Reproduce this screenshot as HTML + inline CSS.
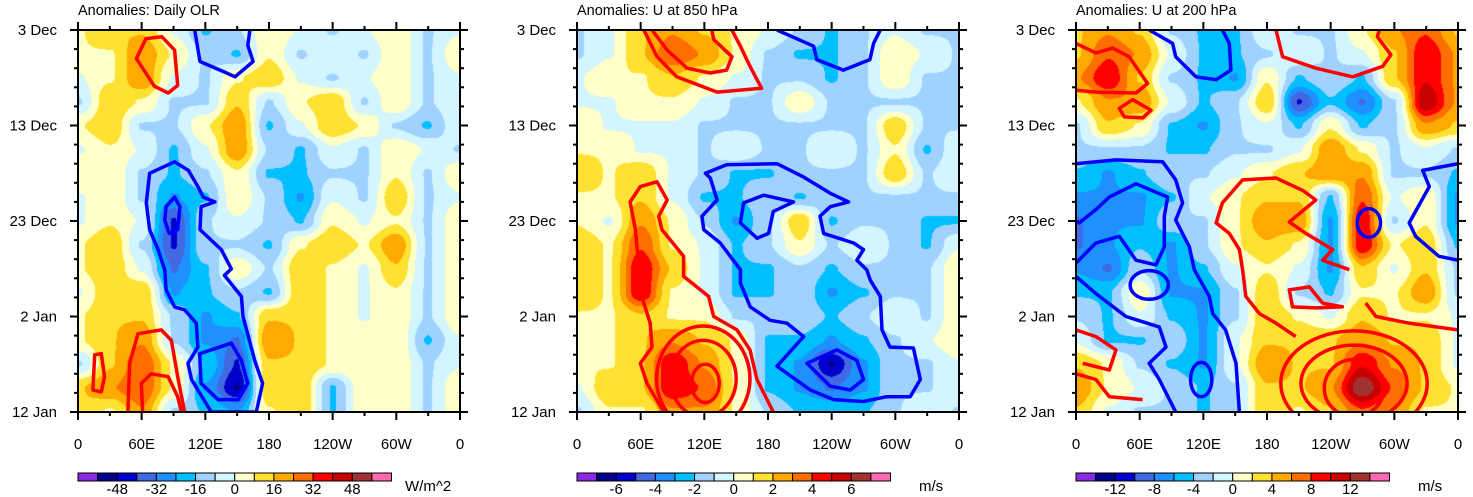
<!DOCTYPE html>
<html><head><meta charset="utf-8">
<style>
html,body{margin:0;padding:0;background:#fff;}
#wrap{position:relative;width:1473px;height:497px;overflow:hidden;font-family:"Liberation Sans",sans-serif;}
canvas{position:absolute;}
svg{position:absolute;left:0;top:0;}
</style></head>
<body>
<div id="wrap">
<canvas id="c0" width="382" height="382" style="left:78px;top:30px"></canvas>
<canvas id="c1" width="382" height="382" style="left:577px;top:30px"></canvas>
<canvas id="c2" width="382" height="382" style="left:1076px;top:30px"></canvas>
<svg id="ov" width="1473" height="497"></svg>
</div>
<script>
const lonGrid=[0,30,60,90,120,150,180,210,240,270,300,330,360];
const dayGrid=[0,2.5,5,7.5,10,12.5,15,17.5,20,22.5,25,27.5,30,32.5,35,37.5,40];
const olrSteps=8, u850Step=1, u200Step=2;
const olrLevels=[
[1,2,2,0,-2,-1,1,0,-1,0,1,-1,0],
[1,1,3,1,-1,-2,1,-1,0,-1,1,-1,1],
[0,1,3,0,-1,1,2,0,-1,0,1,-1,0],
[-1,2,1,-1,-1,2,-1,1,2,-1,1,-1,0],
[1,2,-1,-1,1,3,-2,0,2,1,-1,-2,0],
[0,1,0,-2,0,3,-1,-2,0,-1,1,0,-1],
[1,1,-1,-2,-1,1,-2,-2,-1,-1,1,-1,1],
[0,1,-1,-3,-2,1,-1,-3,0,-1,2,-1,0],
[0,1,0,-5,-1,0,-1,-2,1,0,1,-1,1],
[1,2,-1,-5,-1,-1,-2,1,2,1,3,-1,1],
[1,2,0,-4,-2,1,-1,2,1,0,2,-1,1],
[0,2,2,-3,-2,-1,-2,2,1,0,1,-1,1],
[1,2,2,-1,-3,-2,2,2,1,0,1,-1,1],
[1,2,3,-1,-3,-4,3,2,1,1,1,-2,0],
[-1,2,4,1,-2,-5,2,2,1,1,1,-1,0],
[2,3,4,1,-3,-6,2,2,-2,1,1,-1,1],
[2,1,3,-1,-2,-3,1,2,-2,1,1,-1,1]];
const u850Levels=[
[-1,0,2,3,2,1,0,-1,-2,-1,0,-1,-1],
[-1,0,2,4,3,1,-1,-2,-2,-1,1,0,-1],
[0,1,1,2,1,0,-1,-1,-2,-1,1,-1,-1],
[0,0,1,1,0,-1,-1,1,-1,-1,-1,-1,-1],
[1,0,0,0,-1,-1,-1,-1,-1,-1,2,-1,-1],
[1,1,0,0,-1,0,-1,-1,0,-1,1,-2,0],
[2,1,2,0,-1,-2,-2,-1,-1,-1,2,-1,0],
[1,1,2,0,-2,-2,-1,-2,-1,-1,-1,-1,-1],
[1,0,3,1,-1,-3,-1,2,-2,-1,-1,-2,-2],
[2,1,4,1,0,-2,-1,1,-1,0,-1,-2,0],
[2,1,5,2,0,-2,-2,-1,-2,-1,-1,-1,1],
[2,1,5,1,0,-2,-2,-1,-3,-2,-1,-1,1],
[1,1,2,1,1,-1,-1,-1,-2,-1,0,-1,1],
[1,1,2,3,2,1,-2,-2,-3,-2,-1,0,1],
[1,1,2,5,3,1,-2,-3,-6,-3,-1,-1,0],
[0,2,2,5,4,1,-2,-3,-4,-3,-1,-1,0],
[-1,1,1,3,3,1,-1,-2,-2,-2,-1,0,-1]];
const u200Levels=[
[2,3,2,-1,-2,-2,0,-1,-1,1,3,4,2],
[2,4,3,0,-2,-2,-1,0,-1,0,2,5,3],
[3,5,2,-1,-2,-3,1,-2,-1,-2,2,5,3],
[1,3,3,0,-2,-1,2,-5,-2,-4,-1,6,3],
[-1,2,1,-2,-3,-1,0,-2,1,-2,-1,3,2],
[-1,-1,-1,-2,-2,-1,-1,0,3,1,-1,0,-1],
[-2,-3,-2,-1,-1,0,1,2,3,3,-1,-1,-2],
[-3,-3,-3,-2,0,1,2,2,-2,4,0,1,-3],
[-4,-3,-3,-1,-1,1,3,3,-3,5,-1,1,-3],
[-4,-3,-2,-3,-1,1,2,1,-3,5,1,2,-2],
[-3,-4,-1,-3,-2,0,1,0,-3,2,0,2,-1],
[-2,-2,1,-3,-3,-1,2,-1,-2,1,1,3,-1],
[-1,-2,0,-2,-3,-1,2,1,0,2,1,1,0],
[0,-2,-2,-1,-3,0,2,2,2,3,2,2,0],
[2,1,-1,-2,-3,0,3,2,2,5,3,2,0],
[3,1,0,-1,-2,-1,2,2,3,7,4,2,1],
[2,0,-1,-1,-2,-1,2,1,2,4,3,1,1]];
const palette=["#8a2be2","#00008b","#0000cd","#4169e1","#1e90ff","#00bfff","#a0d2ff","#d2f5ff","#ffffc8","#ffe132","#ffaa00","#ff6e00","#ff0000","#c80000","#a03232","#ff69b4"];
const xTickLabels=["0","60E","120E","180","120W","60W","0"];
const yTickLabels=["3 Dec","13 Dec","23 Dec","2 Jan","12 Jan"];
const yTickDays=[0,10,20,30,40];
const titles=["Anomalies: Daily OLR","Anomalies: U at 850 hPa","Anomalies: U at 200 hPa"];
const units=["W/m^2","m/s","m/s"];
const cbLabels=[["-48","-32","-16","0","16","32","48"],["-6","-4","-2","0","2","4","6"],["-12","-8","-4","0","4","8","12"]];
const olrContours=[
["r",1,[[55,3],[64,0.9],[79,0.7],[91,2.1],[94,5.8],[85,6.6],[72,5.9]]],
["b",0,[[110,0],[115,3.3],[138,4.4],[148,4.9],[165,3.3],[160,1.6],[162,0]]],
["b",1,[[67.5,15],[91,13.8],[104,14.7],[113,16.4],[118,17.5],[129,18],[116,18.5],[115,20.9],[135,23],[144.5,25],[138,25.7],[154,27.9],[155.5,30],[166.5,34.6],[174,37],[168,40],[125.6,40],[107,36.6],[103.7,34.9],[113,33.2],[111.5,30.7],[100.5,29.3],[91,29],[83,27.2],[81.7,25.1],[75.4,23],[67.5,20.9],[64.4,18.1]]],
["b",1,[[83,18.5],[91,17.5],[96,18.5],[94,20.9],[86,21.3],[81.7,19.9]]],
["b",1,[[114.6,33.9],[144.5,32.8],[154,34.6],[160,37],[151,38.7],[132,38.7],[116,37]]],
["r",0,[[47,40],[48.7,34.9],[56.5,31.8],[78.5,31.4],[88,32.5],[94,36.3],[100.5,40]]],
["r",0,[[61,40],[59.7,37],[69,36],[85,36.3],[94,38.4],[97.4,40]]],
["r",1,[[14,37.7],[15.7,34],[22,33.9],[25,36.3],[22,37.9]]]];
const u850Contours=[
["r",0,[[63,0],[75.4,2.8],[94,4.9],[132,6.5],[174,6.1],[163,3.8],[154,1.7],[146,0]]],
["r",0,[[70.7,0],[85,2.1],[103.7,4],[125.6,4.5],[141,4.2],[146,2.8],[128.8,1],[127,0]]],
["r",0,[[81.7,40],[66,37],[59.7,34.9],[70.7,33.2],[69,30.7],[61,27.9],[58,24.4],[55,20.9],[50,18],[59.7,16.4],[75.4,15.9],[85,17.8],[77,19.5],[80,20.9],[100.5,23.7],[100.5,25.8],[124,27.9],[128.8,30],[150.8,31.4],[163,33.5],[169.6,36.6],[185,40]]],
["b",1,[[121,15],[141,14.1],[188.5,14],[213.6,15.4],[238.7,17.1],[256,18],[238.7,18.5],[229,19.5],[232.4,21.3],[260.7,22.3],[270,23],[263.8,24.1],[273,25.1],[276.4,26.2],[285.8,27.9],[287.4,31.4],[295,33.2],[317,33.3],[323.5,36.6],[314,38.4],[292,38.4],[270,38.9],[241.9,38.7],[219.9,37.7],[188.5,35.2],[213.6,32.1],[197.9,30.7],[182,30.4],[163.3,29],[154,26.5],[154,25.1],[144.5,23.7],[135,22.3],[119.4,20.9],[117.8,19.5],[132,17.8],[125.6,15.5]]],
["b",1,[[157,18.1],[176,17.3],[204,18],[185,19],[180.6,21.3],[169.6,21.8],[154,20.2]]],
["b",1,[[216.7,34.9],[245,33.5],[263.8,34.6],[270,36.6],[257.6,37.7],[238.7,37.3]]],
["b",0,[[188.5,0],[223,1.7],[226,3.1],[251,4.2],[276,3.1],[279.5,1.4],[285.8,0]]]];
const u850Rings=[["r",119,36.5,44,5.5],["r",119,36.5,31,4],["r",121,37,13,2]];
const u200Contours=[
["b",0,[[69,0],[91,1.4],[94,2.8],[113,4.9],[132,5.2],[146,4.2],[144.5,1.4],[138,0]]],
["b",0,[[0,14],[37.7,13.6],[81.7,13.8],[94,15.7],[100.5,18.1],[94,19.9],[106.8,22.7],[111.5,25.1],[125.6,27.9],[128.8,29.7],[141,31.4],[150.8,34.9],[154,40]]],
["b",0,[[0,25.8],[18.8,27.6],[47,30],[78.5,31.1],[84.8,33.2],[69,34.9],[78.5,36.6],[94,40]]],
["b",0,[[0,24.4],[18.8,22.3],[40.8,21.6],[56.5,24.1],[75.4,24.6],[83.2,22.7],[83.2,19.5],[86.4,17.5],[56.5,16.1],[31.4,17.5],[18.8,18.8],[3.1,20.2],[0,20]]],
["b",0,[[360,14],[326.7,14.7],[333,16.4],[314,20.2],[320,21.6],[342,23.7],[360,24.1]]],
["r",0,[[0,1.4],[18.8,2.4],[34.6,1.9],[50,2.8],[67.5,5.6],[56.5,6.6],[18.8,6.5],[0,6.3]]],
["r",1,[[40.8,8.2],[53.4,7.3],[70.7,8.4],[62.8,9.2],[45.5,9.1]]],
["r",0,[[188.5,0],[194.7,2.8],[226,4],[260.7,4.9],[289,3.8],[296.8,2.6],[284,0.7],[285.8,0]]],
["r",0,[[257.6,25.1],[232.4,24.1],[241.9,23],[216.7,21.3],[201,20.1],[226,17.8],[213.6,16.8],[188.5,15.5],[157,15.7],[138,18.1],[132,20.2],[144.5,21.3],[154,23],[157,25.1],[160,27.9],[172.8,29.7],[188.5,30.7],[207,32.1]]],
["r",1,[[201,27.2],[220,26.9],[232.4,28.6],[251,29],[226,29.1],[204,29]]],
["r",0,[[273,28.6],[282.7,30],[314,30.7],[360,31.4]]],
["r",0,[[0,31.4],[18.8,32.1],[37.7,33.5],[31.4,35.6],[6.3,34.9]]],
["r",0,[[0,36],[18.8,36.6],[31.4,38.4],[62.8,38.7]]]];
const u200Rings=[["b",69,26.7,18,1.5],["b",118,36.6,10,1.8],["b",276,20.2,11,1.5],["r",262,37,69,5.5],["r",262,37,50,4],["r",262,37.5,28,3]];

const panelX=[78,577,1076], panelY=30, S=382;
const fields=[olrLevels,u850Levels,u200Levels];
const steps=[olrSteps,u850Step,u200Step];
const contourSets=[olrContours,u850Contours,u200Contours];
const ringSets=[[],u850Rings,u200Rings];
function xOf(lon){return lon/360*S;}
function yOf(day){return day/40*S;}
function hexRGB(h){return [parseInt(h.substr(1,2),16),parseInt(h.substr(3,2),16),parseInt(h.substr(5,2),16)];}
const rgb=palette.map(hexRGB);
function sample(g,lon,day){
  let fi=lon/30, fj=day/2.5;
  let i=Math.min(Math.floor(fi),lonGrid.length-2), j=Math.min(Math.floor(fj),dayGrid.length-2);
  let a=fi-i,b=fj-j;
  a=a*a*(3-2*a); b=b*b*(3-2*b);
  return (g[j][i]*(1-a)+g[j][i+1]*a)*(1-b)+(g[j+1][i]*(1-a)+g[j+1][i+1]*a)*b;
}
for(let p=0;p<3;p++){
  const c=document.getElementById('c'+p),ctx=c.getContext('2d');
  const img=ctx.createImageData(S,S);
  for(let y=0;y<S;y++)for(let x=0;x<S;x++){
    const lon=x/(S-1)*360, day=y/(S-1)*40;
    const v=sample(fields[p],lon,day)*steps[p];
    let k=Math.floor(v/steps[p]-0.1)+8; k=Math.max(0,Math.min(15,k));
    const o=(y*S+x)*4,col=rgb[k];
    img.data[o]=col[0];img.data[o+1]=col[1];img.data[o+2]=col[2];img.data[o+3]=255;
  }
  ctx.putImageData(img,0,0);
}
const NS="http://www.w3.org/2000/svg";
const ov=document.getElementById('ov');
function el(t,a,parent){const e=document.createElementNS(NS,t);for(const k in a)e.setAttribute(k,a[k]);(parent||ov).appendChild(e);return e;}
const defs=el('defs',{});
for(let p=0;p<3;p++){
  const cp=el('clipPath',{id:'clip'+p},defs);
  el('rect',{x:panelX[p],y:panelY,width:S,height:S},cp);
}
for(let p=0;p<3;p++){
  const X=panelX[p],Y=panelY;
  const g=el('g',{'clip-path':'url(#clip'+p+')'});
  
  
  contourSets[p].forEach(cn=>{
    const pts=cn[2].map(q=>(X+xOf(q[0])).toFixed(1)+','+(Y+yOf(q[1])).toFixed(1)).join(' ');
    const e=el(cn[1]?'polygon':'polyline',{points:pts,fill:'none',stroke:cn[0]=='r'?'#ff0000':'#0000ff','stroke-width':3.5,'stroke-linejoin':'round'},g);
    
    
  });
  ringSets[p].forEach(r=>{
    const e=el('ellipse',{cx:X+xOf(r[1]),cy:Y+yOf(r[2]),rx:xOf(r[3]),ry:yOf(r[4]),fill:'none',stroke:r[0]=='r'?'#ff0000':'#0000ff','stroke-width':3.5},g);
    
    
  });
  const fr=el('rect',{x:X,y:Y,width:S,height:S,fill:'none',stroke:'#000','stroke-width':2});
  
  
  for(let lon=0;lon<=360;lon+=30){
    const major=lon%60==0,L=major?8:4,x=X+xOf(lon);
    el('line',{x1:x,x2:x,y1:Y,y2:Y-L,stroke:'#000','stroke-width':2});
    el('line',{x1:x,x2:x,y1:Y+S,y2:Y+S+L,stroke:'#000','stroke-width':2});
  }
  xTickLabels.forEach((t,i)=>{
    const e=el('text',{x:X+xOf(i*60),y:449,'text-anchor':'middle','font-size':15,fill:'#000'});
    e.textContent=t;
    
    
  });
  for(let d=0;d<=40;d+=2){
    const major=d%10==0,L=major?8:4,y=Y+yOf(d);
    el('line',{x1:X,x2:X-L,y1:y,y2:y,stroke:'#000','stroke-width':2});
    el('line',{x1:X+S,x2:X+S+L,y1:y,y2:y,stroke:'#000','stroke-width':2});
  }
  yTickLabels.forEach((t,i)=>{
    const e=el('text',{x:X-21,y:Y+yOf(yTickDays[i])+5,'text-anchor':'end','font-size':15,fill:'#000'});
    e.textContent=t;
    
    
  });
  const ti=el('text',{x:X,y:15,'font-size':14.5,fill:'#000'});
  ti.textContent=titles[p];
  
  
  const cbW=313.5/16;
  const cb=el('g',{});
  
  
  palette.forEach((col,i)=>{
    el('rect',{x:X+i*cbW,y:473,width:cbW,height:8,fill:col,stroke:'#000','stroke-width':1},cb);
  });
  cbLabels[p].forEach((t,i)=>{
    const e=el('text',{x:X+(2+2*i)*cbW,y:494,'text-anchor':'middle','font-size':15,fill:'#000'},cb);
    e.textContent=t;
    
    
  });
  const u=el('text',{x:X+(p==0?327:342),y:491,'font-size':15,fill:'#000'});
  u.textContent=units[p];
  
  
}
</script>
</body></html>
